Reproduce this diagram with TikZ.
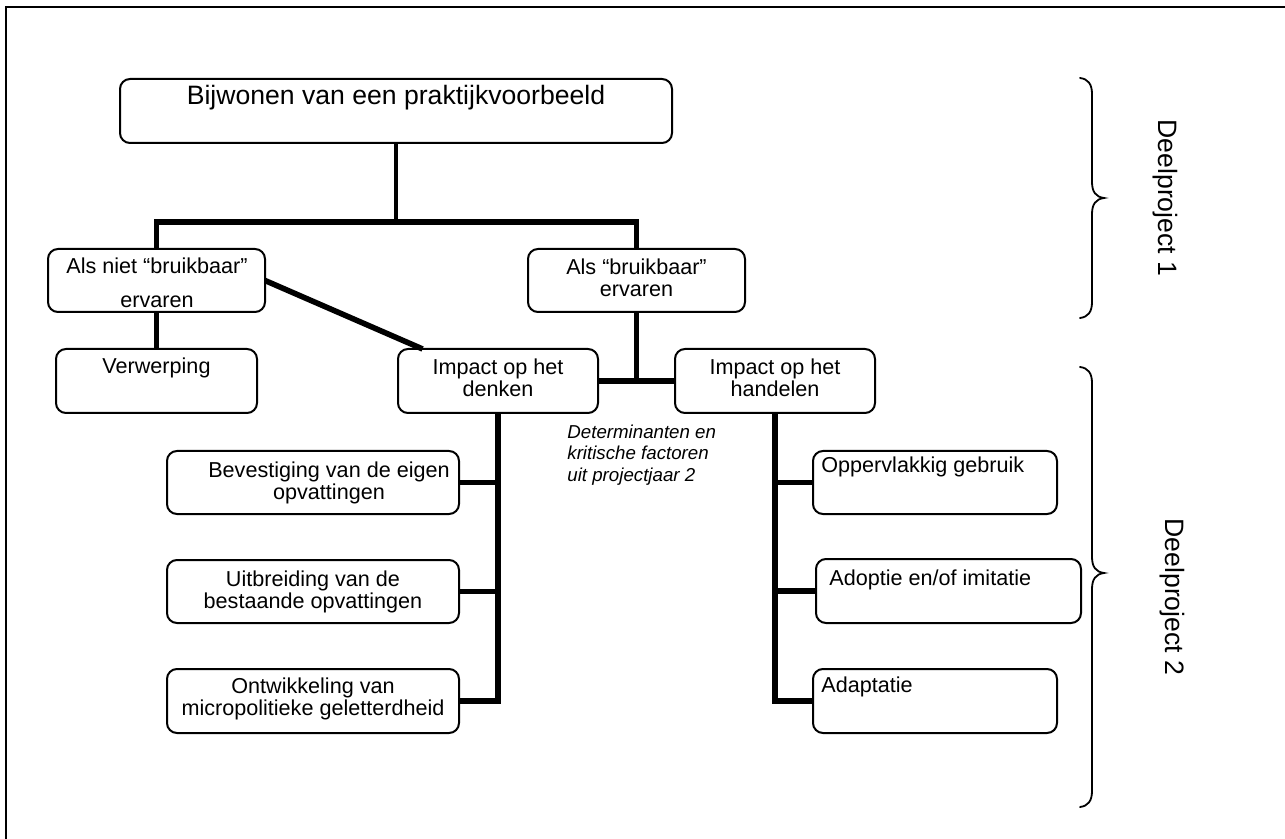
\documentclass[tikz,border=0pt]{standalone}
\usepackage{fontspec}
\setmainfont{Liberation Sans}
\begin{document}
\begin{tikzpicture}[x=0.5pt,y=-0.5pt,
  box/.style={draw, line width=1pt, rounded corners=5pt, inner sep=0pt, outer sep=0pt},
  conn/.style={line width=2.8pt, line join=miter},
  txt/.style={inner sep=0pt, font=\fontsize{10.8}{11}\selectfont, align=center},
  big/.style={inner sep=0pt, font=\fontsize{13.3}{14}\selectfont},
  note/.style={inner sep=0pt, font=\fontsize{9.35}{10.6}\selectfont\itshape, align=left},
  brace/.style={line width=0.9pt, line cap=round}]
\useasboundingbox (0,0) rectangle (1285,839);
% frame
\draw[line width=1pt] (6,839) -- (6,7) -- (1285,7);
% boxes
\node[box, minimum width=276pt, minimum height=32pt] (top) at (396,111) {};
\node[box, minimum width=108.5pt, minimum height=31.5pt] (alsniet) at (156.5,280.5) {};
\node[box, minimum width=108.5pt, minimum height=31.5pt] (als) at (636.5,280.5) {};
\node[box, minimum width=100.5pt, minimum height=32pt] (verw) at (156.5,381) {};
\node[box, minimum width=100pt, minimum height=32pt] (denken) at (498,381) {};
\node[box, minimum width=100pt, minimum height=32pt] (handelen) at (775,381) {};
\node[box, minimum width=146pt, minimum height=31.5pt] (bev) at (313,482.5) {};
\node[box, minimum width=146pt, minimum height=31.5pt] (uitb) at (313,591.5) {};
\node[box, minimum width=146pt, minimum height=32pt] (ontw) at (313,701) {};
\node[box, minimum width=122pt, minimum height=31.5pt] (opp) at (935,482.5) {};
\node[box, minimum width=132.5pt, minimum height=32pt] (adop) at (948.5,591) {};
\node[box, minimum width=122pt, minimum height=32pt] (adapt) at (935,701) {};
% texts
\node[big] (ttop) at (396,98) {Bijwonen van een praktijkvoorbeeld};
\node[txt] (talsniet1) at (157,266) {Als niet “bruikbaar”};
\node[txt] (talsniet2) at (157,302) {ervaren};
\node[txt] (tals) at (636.5,278) {Als “bruikbaar”\\ervaren};
\node[txt] (tverw) at (156.5,368) {Verwerping};
\node[txt] (tdenken) at (498,378) {Impact op het\\denken};
\node[txt] (thandelen) at (775,378) {Impact op het\\handelen};
\node[txt] (tbev) at (329,483) {Bevestiging van de eigen\\opvattingen};
\node[txt] (tuitb) at (313,592) {Uitbreiding van de\\bestaande opvattingen};
\node[txt] (tontw) at (313,699) {Ontwikkeling van\\micropolitieke geletterdheid};
\node[txt, anchor=west] (topp) at (821,467) {Oppervlakkig gebruik};
\node[txt, anchor=west] (tadop) at (829,580) {Adoptie en/of imitatie};
\node[txt, anchor=west] (tadapt) at (821,687) {Adaptatie};
\node[note, anchor=west] (tnote) at (567,455) {Determinanten en\\kritische factoren\\uit projectjaar 2};
% connectors
\coordinate (j1) at (396,222);
\draw[conn, line width=2.3pt] (top.south) -- (j1);
\draw[conn] (alsniet.north) |- (j1) -| (als.north);
\draw[conn] (alsniet.south) -- (verw.north);
\draw[conn] (alsniet.east) -- (denken.157);
\draw[conn] (als.south) -- (als.south |- denken.east);
\draw[conn] (denken.east) -- (handelen.west);
\draw[conn] (denken.south) |- (ontw.east);
\draw[conn] (bev.east) -- (bev.east -| denken.south);
\draw[conn] (uitb.east) -- (uitb.east -| denken.south);
\draw[conn] (handelen.south) |- (adapt.west);
\draw[conn] (opp.west) -- (opp.west -| handelen.south);
\draw[conn] (adop.west) -- (adop.west -| handelen.south);
% braces
\draw[brace] (1080,78) .. controls (1088,79) and (1092,84) .. (1092,94) -- (1092,182)
  .. controls (1092,192) and (1096,197) .. (1104,198)
  .. controls (1096,199) and (1092,204) .. (1092,214) -- (1092,302)
  .. controls (1092,312) and (1088,317) .. (1080,318);
\draw[brace] (1080,367) .. controls (1088,368) and (1092,373) .. (1092,383) -- (1092,557)
  .. controls (1092,567) and (1096,572) .. (1104,573)
  .. controls (1096,574) and (1092,579) .. (1092,589) -- (1092,791)
  .. controls (1092,801) and (1088,806) .. (1080,807);
\node[big, rotate=-90] (dp1) at (1165,198) {Deelproject 1};
\node[big, rotate=-90] (dp2) at (1172,597) {Deelproject 2};
\end{tikzpicture}
\end{document}
